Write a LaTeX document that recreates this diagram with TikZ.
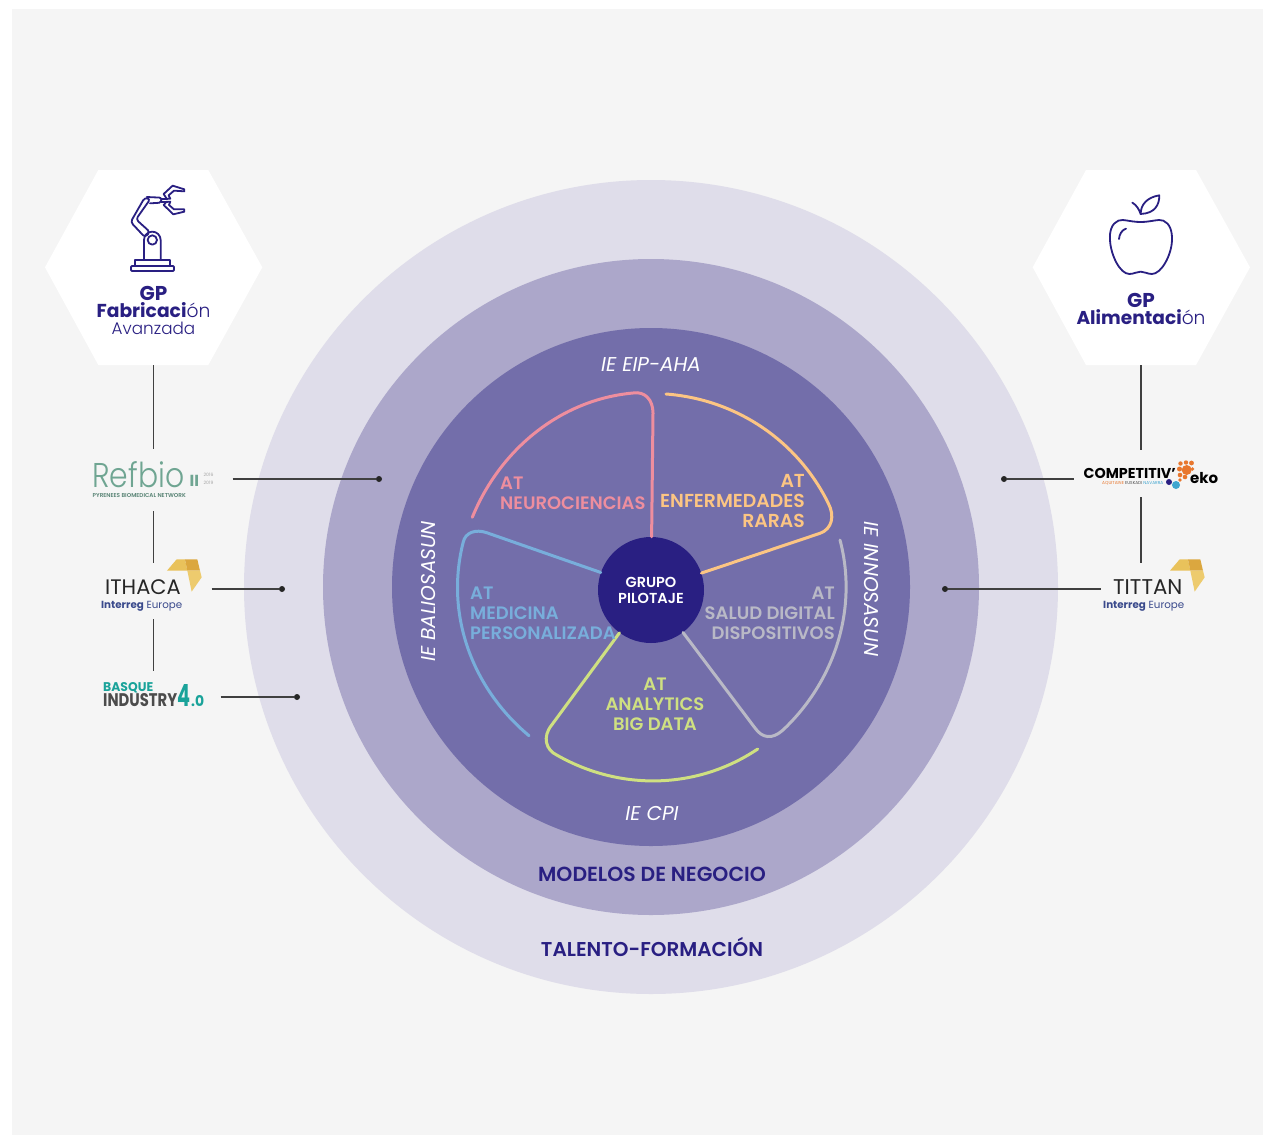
\documentclass[tikz,border=0pt]{standalone}
\usepackage{fontspec}
\setmainfont{Poppins}
\newfontfamily\popm{Poppins SemiBold}
\newfontfamily\popl{Poppins Light}
\newfontfamily\popr{Poppins}
\definecolor{pageg}{HTML}{F5F5F5}
\definecolor{ringa}{HTML}{DFDDEA}
\definecolor{ringb}{HTML}{ACA7CA}
\definecolor{ringc}{HTML}{736EAA}
\definecolor{navy}{HTML}{291F82}
\definecolor{atpink}{HTML}{EE8E9E}
\definecolor{atorange}{HTML}{FCC583}
\definecolor{atgray}{HTML}{B9B9C6}
\definecolor{atgreen}{HTML}{CFE081}
\definecolor{atblue}{HTML}{78AEDB}
\definecolor{ylwa}{HTML}{E9C25B}
\definecolor{ylwb}{HTML}{DBA73F}
\definecolor{ylwc}{HTML}{EDCB6E}
\definecolor{eublue}{HTML}{3A4A8C}
\definecolor{refgreen}{HTML}{6FA592}
\definecolor{teal2}{HTML}{1AA39A}
\definecolor{compor}{HTML}{E8772E}
\definecolor{compbl}{HTML}{3FA5CF}
\tikzset{
  ring/.style={circle,minimum size=#1,inner sep=0},
  atlabel/.style={inner sep=0,font=\popm\fontsize{18}{20}\selectfont},
  ielabel/.style={inner sep=0,text=white,font=\popr\itshape\fontsize{20}{22}\selectfont},
  titlelabel/.style={inner sep=0,text=navy,font=\popm\fontsize{20.4}{22}\selectfont},
  atline/.style={line width=3pt,line cap=round},
  link/.style={draw=black!75,line width=1.1pt},
  dot/.style={circle,fill=black!85,minimum size=6pt,inner sep=0},
  logobox/.style={inner sep=0},
  gptext/.style={inner sep=0,text=navy,align=center},
  iconline/.style={draw=navy,line width=1.8pt,line join=round,line cap=round},
}
\newcommand{\arrowlogo}[1]{%
  \begin{scope}[shift={(#1,440)},x=0.3333pt,y=-0.3333pt]
    \fill[ylwa] (291,392)--(320,358)--(345,358)--(352,392)--cycle;
    \fill[ylwb] (345,358)--(382,358)--(390,392)--(352,392)--cycle;
    \fill[ylwc] (352,392)--(390,392)--(395,412)--(365,455)--cycle;
  \end{scope}}
\begin{document}
\begin{tikzpicture}[x=1pt,y=-1pt]
\useasboundingbox (0,0) rectangle (1263,1135);
\fill[pageg] (12,9) rectangle (1263,1135);
% rings
\node[ring=814pt,fill=ringa] (outer) at (651,587) {};
\node[ring=656pt,fill=ringb] (middle) at (651,587) {};
\node[ring=518pt,fill=ringc] (inner) at (651,587) {};
\node[ring=106pt,fill=navy,text=white,align=center,font=\popm\fontsize{14.5}{16}\selectfont] (grupo) at (651,590) {GRUPO\\PILOTAJE};
% AT curves
\draw[atline,atpink] (472.3,517.3) .. controls (499.9,449.6) and (560.4,399.6) .. (633,393) .. controls (645,391) and (653,400) .. (653,413) -- (grupo);
\draw[atline,atorange] (666,394) .. controls (735.8,399.3) and (797.2,440.2) .. (828.3,503.3) .. controls (835,516) and (832,529) .. (820,533.3) -- (grupo);
\draw[atline,atgray] (840,540) .. controls (858.2,608.7) and (834.7,681.2) .. (783,730) .. controls (772,740) and (762,738) .. (755,728) -- (grupo);
\draw[atline,atgreen] (757.7,749) .. controls (697.1,789.7) and (620,791.2) .. (556.7,755) .. controls (546,750) and (542,737) .. (551.7,725) -- (grupo);
\draw[atline,atblue] (529,735.7) .. controls (472.2,688.2) and (445,614.8) .. (463,543) .. controls (465,532) and (476,529) .. (486.7,532.7) -- (grupo);
% AT labels
\node[atlabel,text=atpink,align=left,anchor=west] (atneuro) at (500,493) {AT\\NEUROCIENCIAS};
\node[atlabel,text=atorange,align=right,anchor=east,font=\popm\fontsize{18.8}{20}\selectfont] (atenf) at (805,501) {AT\\ENFERMEDADES\\RARAS};
\node[atlabel,text=atgray,align=right,anchor=east] (atsalud) at (835,613.5) {AT\\SALUD DIGITAL\\DISPOSITIVOS};
\node[atlabel,text=atgreen,align=center] (atana) at (655,704) {AT\\ANALYTICS\\BIG DATA};
\node[atlabel,text=atblue,align=left,anchor=west] (atmed) at (470,613) {AT\\MEDICINA\\PERSONALIZADA};
% IE labels
\node[ielabel] (ieeip) at (651,365) {IE EIP-AHA};
\node[ielabel] (iecpi) at (652,813.5) {IE CPI};
\node[ielabel,rotate=90] (iebal) at (429,591.5) {IE BALIOSASUN};
\node[ielabel,rotate=-90] (ieinn) at (871,589) {IE INNOSASUN};
\node[titlelabel] (modelos) at (652,874) {MODELOS DE NEGOCIO};
\node[titlelabel,anchor=base,font=\popm\fontsize{20}{22}\selectfont] (talento) at (652,956) {TALENTO-FORMACIÓN};
% hexagons
\fill[white] (98.3,170)--(208.3,170)--(262.3,267.3)--(208.3,365)--(98.3,365)--(45,267.3)--cycle;
\fill[white] (1086,170)--(1196,170)--(1250,267.3)--(1196,365)--(1086,365)--(1032.7,267.3)--cycle;
\coordinate (hexL) at (153.5,365);
\coordinate (hexR) at (1141,365);
% robot
\begin{scope}[shift={(30,160)},x=0.3333pt,y=-0.3333pt]
  \draw[iconline,rounded corners=1pt] (303,318) rectangle (432,333);
  \draw[iconline] (316,318)--(316,300)--(419,300)--(419,318);
  \draw[iconline] (342,300)--(342,240) arc[start angle=180,end angle=360,radius=25] --(392,300);
  \draw[iconline] (367,240) circle[radius=14];
  \draw[iconline,rounded corners=3pt] (302,186)--(344,113)--(361,117)--(318,178)--(360,216)--(345,232)--cycle;
  \draw[iconline,rounded corners=2pt] (350,111)--(394,113)--(394,128)--(360,130);
  \draw[iconline] (394,116)--(412,116) (394,125)--(412,125);
  \draw[iconline] (410,116)--(401,102)--(428,77)--(463,88)--(463,94)--(432,92)--(416,106)--(421,116)--cycle;
  \draw[iconline] (410,125)--(401,135)--(430,163)--(463,155)--(463,148)--(432,148)--(417,135)--(421,125)--cycle;
\end{scope}
% apple
\begin{scope}[shift={(1020,160)},x=0.3333pt,y=-0.3333pt]
  \draw[iconline] (362,186) .. controls (330,186) and (310,176) .. (295,182) .. controls (275,190) and (268,215) .. (270,240) .. controls (272,285) and (300,342) .. (328,342) .. controls (342,342) and (350,335) .. (362,335) .. controls (374,335) and (382,342) .. (396,342) .. controls (424,342) and (455,285) .. (456,240) .. controls (457,215) and (450,190) .. (430,182) .. controls (415,176) and (394,186) .. (362,186) -- cycle;
  \draw[iconline] (297,237) .. controls (298,222) and (306,210) .. (318,206);
  \draw[iconline] (337,128) .. controls (350,135) and (358,150) .. (362,162);
  \draw[iconline] (362,162) .. controls (362,135) and (380,112) .. (418,106) .. controls (418,135) and (405,160) .. (362,162) -- cycle;
\end{scope}
\node[gptext,font=\fontsize{18.7}{17}\selectfont] (gpfab) at (153.5,310.5) {{\bfseries\fontsize{20}{17}\selectfont GP}\\{\bfseries Fabricaci}{\popl ón}\\{\popl\fontsize{16.8}{17}\selectfont Avanzada}};
\node[gptext,font=\fontsize{18.6}{17}\selectfont] (gpali) at (1141,308.5) {{\bfseries\fontsize{20}{17}\selectfont GP}\\{\bfseries Alimentaci}{\popl ón}};
% logo boxes
\node[logobox,minimum width=158pt,minimum height=62pt] (refbio) at (153.5,480) {};
\node[logobox,minimum width=116pt,minimum height=56pt] (ithaca) at (153.5,591) {};
\node[logobox,minimum width=134pt,minimum height=52pt] (basque) at (153.5,697) {};
\node[logobox,minimum width=134pt,minimum height=47pt] (compet) at (1141,473.5) {};
\node[logobox,minimum width=80pt,minimum height=56pt] (tittan) at (1141,591) {};
% Refbio
\node[inner sep=0,text=refgreen,anchor=south west] (refname) at (92,488) {\resizebox{92pt}{26pt}{\popl Refbio}};
\node[inner sep=0,text=refgreen,anchor=base west,font=\bfseries\fontsize{16}{16}\selectfont] (refii) at (189.5,486) {II};
\node[inner sep=0,text=black!35,align=left,font=\fontsize{4.5}{8}\selectfont] (refyear) at (208.5,479) {2016\\2019};
\node[inner sep=0,text=refgreen!80!black,anchor=base west,font=\popm\fontsize{5.7}{6}\selectfont] (refsub) at (92.5,497.5) {PYRENEES BIOMEDICAL NETWORK};
% Ithaca
\arrowlogo{70}
\node[inner sep=0,text=black!85,anchor=base west,font=\popr\fontsize{21}{22}\selectfont] (ithname) at (105,594) {ITHACA};
\node[inner sep=0,anchor=base west,text=eublue,font=\fontsize{10.3}{12}\selectfont] (itheu) at (101,608) {{\bfseries Interreg} Europe};
% Basque
\node[inner sep=0,anchor=south west,text=teal2] (bsq) at (103,693.5) {\resizebox{50pt}{9pt}{\bfseries BASQUE}};
\node[inner sep=0,anchor=south west,text=black!70] (ind) at (103,707) {\resizebox{74pt}{13pt}{\bfseries INDUSTRY}};
\node[inner sep=0,anchor=south west,text=teal2] (bfour) at (177,707) {\resizebox{13pt}{22pt}{\bfseries 4}};
\node[inner sep=0,anchor=south west,text=teal2] (bzero) at (191,707) {\resizebox{13pt}{11pt}{\bfseries .0}};
% Competitiv
\node[inner sep=0,anchor=base west,text=black,font=\bfseries\fontsize{14.3}{14}\selectfont] (compname) at (1083.5,478) {COMPETITIV'};
\node[inner sep=0,anchor=base west,text=black,font=\bfseries\fontsize{15}{14}\selectfont] (compeko) at (1190,483) {eko};
\node[inner sep=0,anchor=base west,font=\fontsize{4.3}{4}\selectfont] (compsub) at (1102,484) {\textcolor{compor}{AQUITAINE} \textcolor{black!70}{EUSKADI} \textcolor{compbl}{NAVARRA}};
\fill[compor] (1186.7,470) circle[radius=5];
\foreach \cx/\cy/\cr in {1179.5/469/2.5,1180.5/463.5/2.2,1186/462.5/2.2,1191.5/463/2.4,1192.5/469/1.8,1180/475/2.3,1185/477/2.3,1180/480/1.8}
  \fill[compor] (\cx,\cy) circle[radius=\cr];
\fill[navy] (1169,482) circle[radius=3];
\fill[compbl] (1176,485) circle[radius=4];
% Tittan
\arrowlogo{1073}
\node[inner sep=0,text=black!85,anchor=base west,font=\popr\fontsize{21.3}{22}\selectfont] (titname) at (1113,594) {TITTAN};
\node[inner sep=0,anchor=base west,text=eublue,font=\fontsize{10.3}{12}\selectfont] (titeu) at (1103,608) {{\bfseries Interreg} Europe};
% connectors
\node[dot] (dotA) at (379,479) {};
\node[dot] (dotB) at (282,589) {};
\node[dot] (dotC) at (297,697) {};
\node[dot] (dotD) at (1004,479) {};
\node[dot] (dotE) at (945,589) {};
\draw[link] (hexL) -- (refbio.north -| hexL);
\draw[link] (refbio.south) -- (ithaca.north);
\draw[link] (ithaca.south) -- (basque.north);
\draw[link] (hexR) -- (compet.north -| hexR);
\draw[link] (compet.south) -- (tittan.north);
\draw[link] (refbio.east |- dotA) -- (dotA);
\draw[link] (ithaca.east |- dotB) -- (dotB);
\draw[link] (basque.east |- dotC) -- (dotC);
\draw[link] (compet.west |- dotD) -- (dotD);
\draw[link] (tittan.west |- dotE) -- (dotE);
\end{tikzpicture}
\end{document}
